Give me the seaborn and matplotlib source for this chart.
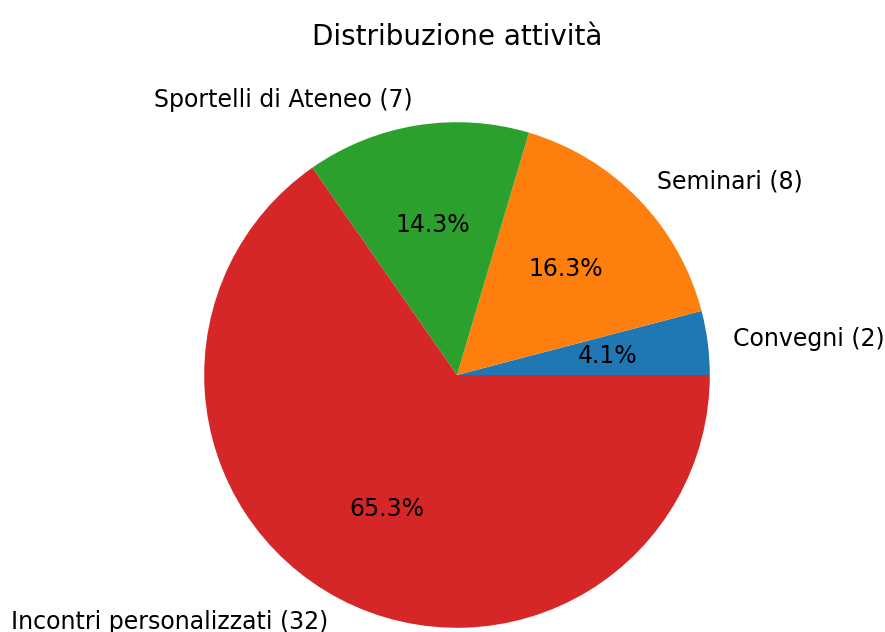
import matplotlib
matplotlib.use("Agg")
import matplotlib.pyplot as plt
import seaborn as sns

# dati
categorie = ["Convegni", "Seminari", "Sportelli di Ateneo", "Incontri personalizzati"]
conteggi = [2, 8, 7, 32]
titolo = "Distribuzione attività"

etichette = [f"{c} ({n})" for c, n in zip(categorie, conteggi)]
colori = sns.color_palette("tab10", len(categorie))

plt.rcParams['font.family'] = ['DejaVu Sans']

fig = plt.figure(figsize=(8.85, 6.32), dpi=100)
# raggio torta ~253 px, centro ~(457, 375) px dall'alto a sinistra
ax = fig.add_axes([(457 - 316) / 885, (632 - 375 - 316) / 632, 632 / 885, 632 / 632])

ax.pie(conteggi, labels=etichette, colors=colori, autopct="%1.1f%%",
       textprops={"fontsize": 17})
# titolo centrato a ~35 px dall'alto
ax.set_title(titolo, fontsize=20, y=(691 - 45) / 632, va="center")

fig.savefig("out.png", dpi=100)
